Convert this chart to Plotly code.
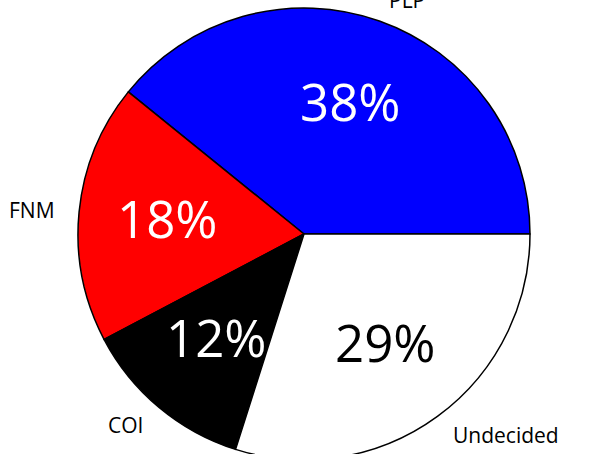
import math
import plotly.graph_objects as go

labels = ["PLP", "FNM", "COI", "Undecided"]
values = [38, 18, 12, 29]
pct_labels = ["38%", "18%", "12%", "29%"]
colors = ["#0000FF", "#FF0000", "#000000", "#FFFFFF"]
pct_text_colors = ["white", "white", "white", "black"]

FONT = "Open Sans, DejaVu Sans, sans-serif"

total = sum(values)
# plotly (counterclockwise): the first slice lies clockwise of `rotation`;
# make the first slice start at 3 o'clock and run counterclockwise.
rotation = 90 - values[0] / total * 360

fig = go.Figure(
    go.Pie(
        labels=labels,
        values=values,
        sort=False,
        direction="counterclockwise",
        rotation=rotation,
        marker=dict(colors=colors, line=dict(color="black", width=1.5)),
        textinfo="none",
        hoverinfo="label+percent",
        showlegend=False,
        domain=dict(x=[0, 1], y=[0, 1]),
    )
)

# Text positions derived from the data (labels at 1.1 r, percentages at ~0.6 r)
start = 0.0
annotations = []
for lab, v, pl, tc in zip(labels, values, pct_labels, pct_text_colors):
    frac = v / total
    mid = math.radians((start + frac / 2) * 360)
    start += frac
    cx, cy = math.cos(mid), math.sin(mid)
    annotations.append(dict(
        x=0.5 + 0.5 * 0.61 * cx, y=0.5 + 0.5 * 0.61 * cy, xref="paper", yref="paper",
        text=pl, showarrow=False, yshift=3,
        font=dict(family=FONT, size=51, color=tc), xanchor="center", yanchor="middle",
    ))
    annotations.append(dict(
        x=0.5 + 0.5 * 1.1 * cx, y=0.5 + 0.5 * 1.1 * cy, xref="paper", yref="paper",
        text=lab, showarrow=False,
        font=dict(family=FONT, size=21, color="black"),
        xanchor="left" if cx > 0 else "right", yanchor="middle",
    ))

fig.update_layout(
    width=600,
    height=470,
    margin=dict(l=78, r=70, t=8, b=10),
    paper_bgcolor="white",
    plot_bgcolor="white",
    annotations=annotations,
)

fig.write_html(
    "out.html",
    config={"displayModeBar": False},
    post_script="document.documentElement.style.overflow='hidden';"
                "document.body.style.overflow='hidden';document.body.style.margin='0';",
)
